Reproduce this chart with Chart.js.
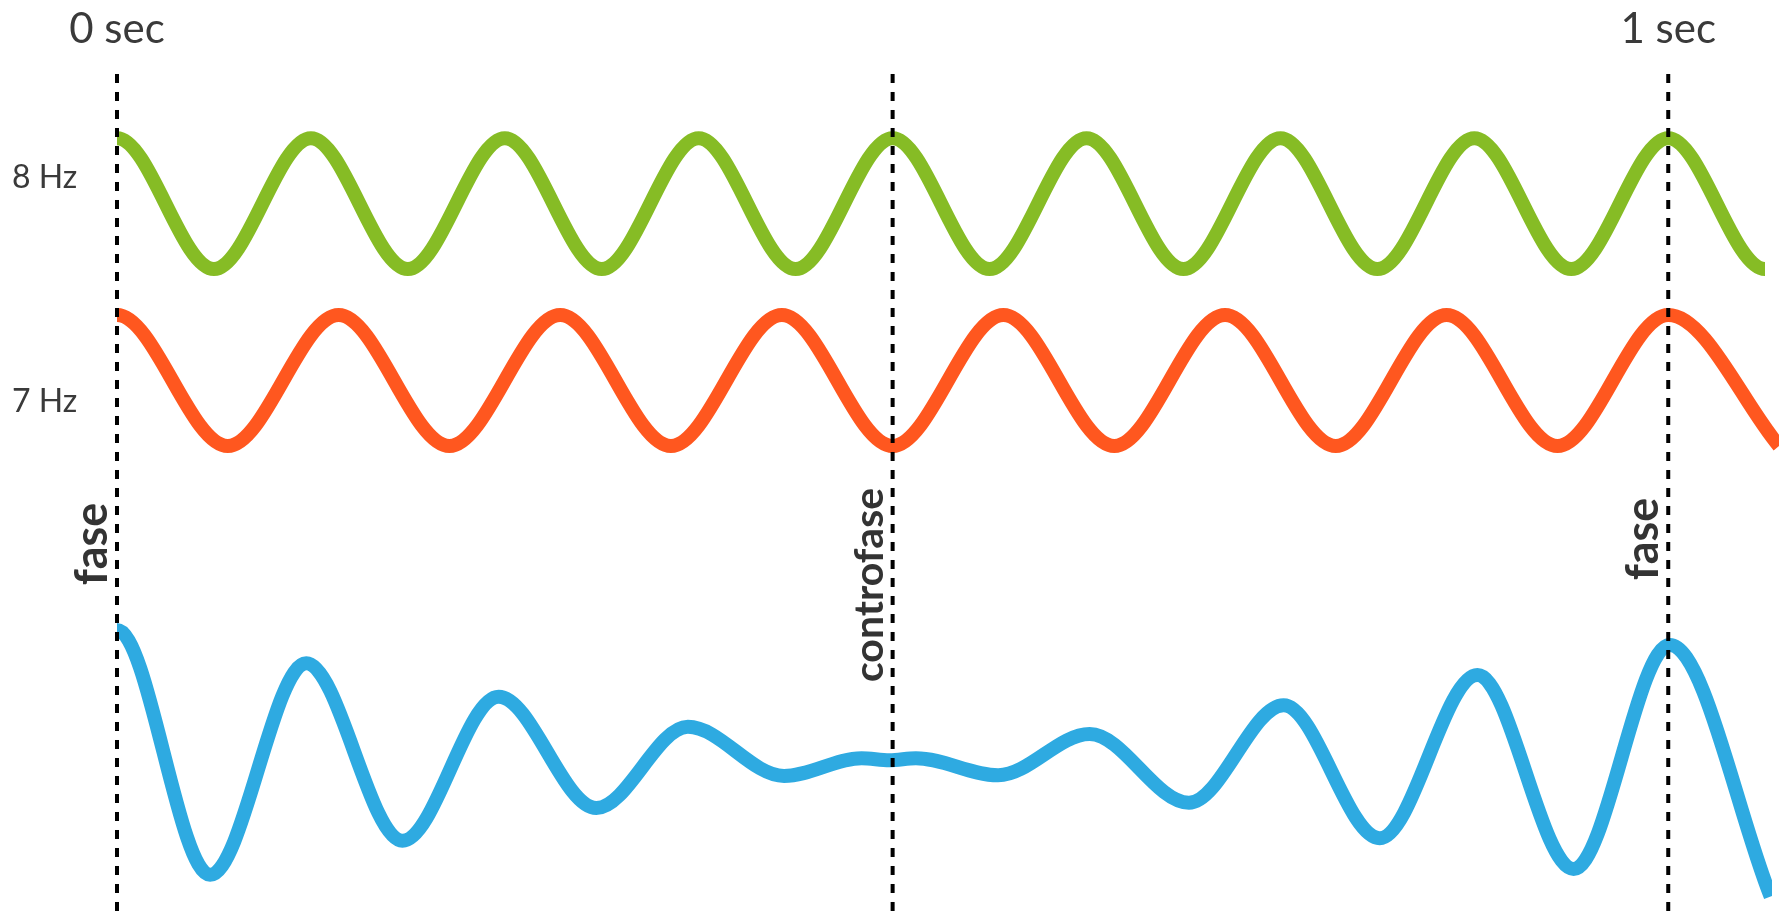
<!DOCTYPE html>
<html>
<head>
    <meta charset="utf-8">
    <script src="https://cdn.jsdelivr.net/npm/chart.js"></script>
    <style>
        body { margin: 0; background: #fff; }
        .wrap { width: 1779px; height: 920px; position: relative; }
    </style>
</head>
<body>
    <div class="wrap">
        <canvas id="beatChart"></canvas>
    </div>

    <script>
    // the first point sits just before 0 sec so the waves start flat at their peak
    const GREEN_T = [-0.0625, 0, 0.0625, 0.125, 0.1875, 0.25, 0.3125, 0.375, 0.4375, 0.5, 0.5625,
                     0.625, 0.6875, 0.75, 0.8125, 0.875, 0.9375, 1.0, 1.0625, 1.125];
    const GREEN_V = [-1, 1, -1, 1, -1, 1, -1, 1, -1, 1, -1, 1, -1, 1, -1, 1, -1, 1, -1, 1];

    const ORANGE_T = [-0.0714, 0, 0.0714, 0.1429, 0.2143, 0.2857, 0.3571, 0.4286, 0.5, 0.5714,
                      0.6429, 0.7143, 0.7857, 0.8571, 0.9286, 1.0, 1.0714];
    const ORANGE_V = [-1, 1, -1, 1, -1, 1, -1, 1, -1, 1, -1, 1, -1, 1, -1, 1, -1];

    const BLUE_T = [-0.060, 0, 0.060, 0.122, 0.184, 0.246, 0.309, 0.368, 0.430, 0.480, 0.498,
                    0.515, 0.568, 0.627, 0.691, 0.752, 0.814, 0.877, 0.939, 1.001, 1.066];
    const BLUE_V = [-1.8, 1.91, -1.83, 1.40, -1.31, 0.89, -0.81, 0.43, -0.32, -0.05, -0.08,
                    -0.05, -0.31, 0.32, -0.73, 0.76, -1.27, 1.22, -1.74, 1.68, -2.16];

    const TICK_TIMES = [0, 1];
    const TICK_TEXT = ["0 sec", "1 sec"];
    const FREQ_TEXT = ["8 Hz", "7 Hz"];
    const MARKER_TIMES = [0, 0.5, 1];
    const MARKER_TEXT = ["fase", "controfase", "fase"];

    // vertical layout: where each wave sits on the shared y axis
    const GREEN_BASE = 8.42;
    const ORANGE_BASE = 5.72;
    const BLUE_BASE = 0;
    const Y_MIN = -2.52, Y_MAX = 11.53;
    const MARKER_TOP = 10.40;

    function toPoints(ts, vs, base) {
      return ts.map((t, i) => ({ x: t, y: vs[i] + base }));
    }

    const waveStyle = {
      borderWidth: 14,
      borderCapStyle: "butt",
      pointRadius: 0,
      cubicInterpolationMode: "monotone",
      fill: false,
      order: 1
    };

    const markerSets = MARKER_TIMES.map(t => ({
      data: [{ x: t, y: MARKER_TOP }, { x: t, y: Y_MIN }],
      borderColor: "#000",
      borderWidth: 4,
      borderDash: [9, 9],
      borderCapStyle: "butt",
      pointRadius: 0,
      clip: false,
      order: 0
    }));

    const labelPlugin = {
      id: "labels",
      afterDraw(chart) {
        const ctx = chart.ctx;
        const xs = chart.scales.x;
        ctx.save();

        // time labels on top
        ctx.fillStyle = "#3a3a3a";
        ctx.font = "42px Lato";
        ctx.textAlign = "center";
        ctx.textBaseline = "alphabetic";
        TICK_TIMES.forEach((t, i) => {
          ctx.fillText(TICK_TEXT[i], xs.getPixelForValue(t), 43);
        });

        // frequency labels on the left
        ctx.font = "32px Lato";
        ctx.textAlign = "left";
        ctx.fillText(FREQ_TEXT[0], 12, 188);
        ctx.fillText(FREQ_TEXT[1], 12, 412);

        // rotated phase labels next to the dashed lines
        const centers = [544, 585, 539];
        const sizes = [45, 41, 45];
        ctx.fillStyle = "#333";
        ctx.textAlign = "center";
        MARKER_TIMES.forEach((t, i) => {
          ctx.save();
          ctx.font = "bold " + sizes[i] + "px Lato";
          ctx.translate(xs.getPixelForValue(t) - 10, centers[i]);
          ctx.rotate(-Math.PI / 2);
          ctx.fillText(MARKER_TEXT[i], 0, 0);
          ctx.restore();
        });
        ctx.restore();
      }
    };

    new Chart(document.getElementById("beatChart"), {
      type: "line",
      data: {
        datasets: [
          ...markerSets,
          Object.assign({ data: toPoints(GREEN_T, GREEN_V, GREEN_BASE), borderColor: "#86bc25",
                          clip: { left: 0, right: -14, top: false, bottom: false } }, waveStyle),
          Object.assign({ data: toPoints(ORANGE_T, ORANGE_V, ORANGE_BASE), borderColor: "#ff571f",
                          clip: { left: 0, right: false, top: false, bottom: false } }, waveStyle),
          Object.assign({ data: toPoints(BLUE_T, BLUE_V, BLUE_BASE), borderColor: "#2eaae1",
                          clip: { left: 0, right: -7, top: false, bottom: false } }, waveStyle)
        ]
      },
      options: {
        responsive: true,
        maintainAspectRatio: false,
        animation: false,
        layout: { padding: { left: 117, right: 0, top: 0, bottom: 0 } },
        plugins: { legend: { display: false }, tooltip: { enabled: false } },
        scales: {
          x: { type: "linear", min: 0, max: 1.0714, display: false },
          y: { min: Y_MIN, max: Y_MAX, display: false }
        }
      },
      plugins: [labelPlugin]
    });
    </script>
</body>
</html>
